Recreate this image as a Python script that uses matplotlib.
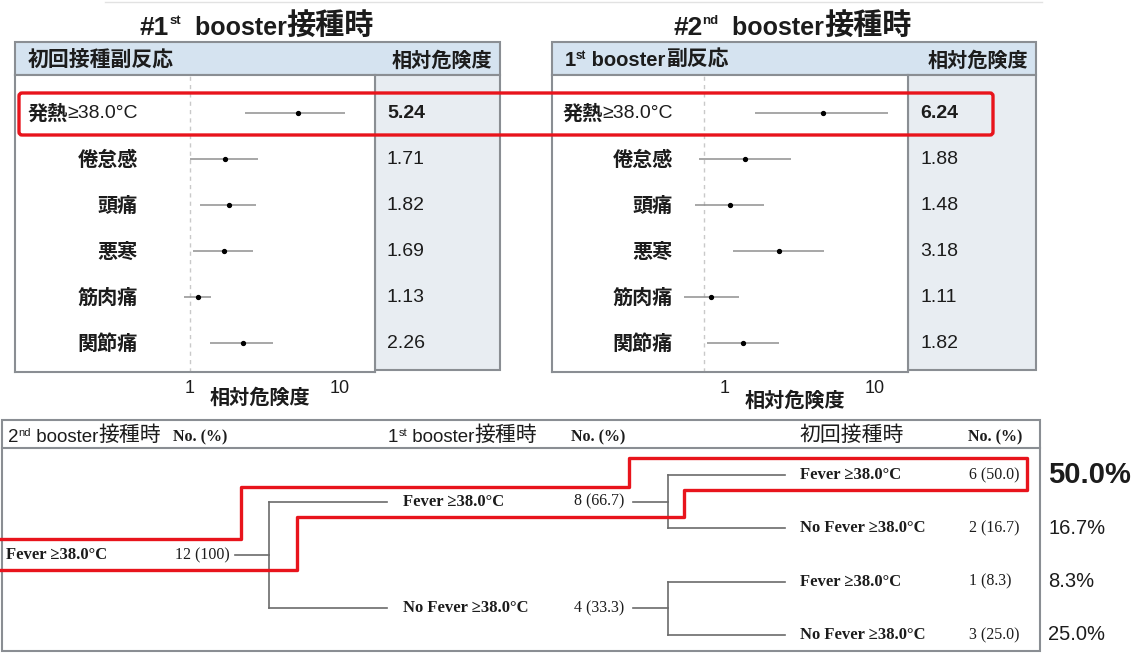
import matplotlib
matplotlib.use("Agg")
from matplotlib import pyplot as plt
from matplotlib.patches import Rectangle, FancyBboxPatch
from matplotlib.ticker import NullLocator
from matplotlib.transforms import ScaledTranslation, blended_transform_factory

# relative risk (point estimate, 95% CI) of each reaction
symptoms = ['発熱≥38.0°C', '倦怠感', '頭痛', '悪寒', '筋肉痛', '関節痛']
rr_1st = [5.24, 1.71, 1.82, 1.69, 1.13, 2.26]
lo_1st = [2.33, 1.00, 1.17, 1.05, 0.91, 1.36]
hi_1st = [10.8, 2.84, 2.75, 2.63, 1.38, 3.57]
rr_2nd = [6.24, 1.88, 1.48, 3.18, 1.11, 1.82]
lo_2nd = [2.19, 0.92, 0.87, 1.56, 0.74, 1.05]
hi_2nd = [16.9, 3.80, 2.51, 6.30, 1.71, 3.16]

# fever follow-up: 2nd booster -> 1st booster -> primary series
root_label = 'Fever ≥38.0°C'
root_n = 12
mid_labels = ['Fever ≥38.0°C', 'No Fever ≥38.0°C']
mid_n = [8, 4]
leaf_labels = ['Fever ≥38.0°C', 'No Fever ≥38.0°C', 'Fever ≥38.0°C', 'No Fever ≥38.0°C']
leaf_n = [6, 2, 1, 3]

W, H = 1137, 654
DEC = 150.0          # pixels per decade on the RR axis
ROW0, ROWSTEP = 113, 46

SANS = ['Liberation Sans', 'Noto Sans CJK JP']
CJK = ['Noto Sans CJK JP']
SERIF = ['Liberation Serif', 'DejaVu Serif']
INK = '#1c1c1c'
EDGE = '#8a8e93'
HEAD = '#d5e3f0'
VALCOL = '#e8edf2'
RED = '#e8141c'

fig = plt.figure(figsize=(W / 100, H / 100), dpi=100)
bg = fig.add_axes([0, 0, 1, 1])
bg.set_xlim(0, W)
bg.set_ylim(H, 0)
bg.axis('off')
bg.plot([105, 1042], [2, 2], color='#e2e2e2', lw=1)


def px_axes(x0, y0, x1, y1, **kw):
    return fig.add_axes([x0 / W, 1 - y1 / H, (x1 - x0) / W, (y1 - y0) / H], **kw)


def chain(ax, x, y, parts, transform=None):
    # lay text pieces of different styles one after another
    s, kw = parts[0]
    kw = dict(kw)
    kw.pop('dy', None)
    first = ax.text(x, y, s, va='bottom', ha='left', color=INK,
                    transform=transform or ax.transData, **kw)
    prev = first
    for s, kw in parts[1:]:
        kw = dict(kw)
        dy = kw.pop('dy', 0)
        prev = ax.annotate(s, xy=(1, 0), xycoords=(prev, first), xytext=(0, dy),
                           textcoords='offset points', va='bottom', ha='left',
                           color=INK, **kw)
    return first


def forest(x0, xdiv, x1, xone, title_parts, title_x, head_parts, rr, lo, hi,
           label_right, xlab_x, xlab_y, tick_shift):
    chain(bg, title_x, 40, title_parts)
    bg.add_patch(Rectangle((x0, 42), x1 - x0, 33, fc=HEAD, ec=EDGE, lw=1.5))
    chain(bg, x0 + 13, 70, head_parts)
    bg.text(x1 - 8, 60, '相対危険度', ha='right', va='center', size=14.5,
            weight='bold', family=CJK, color=INK)
    bg.add_patch(Rectangle((xdiv, 75), x1 - xdiv, 295, fc=VALCOL, ec=EDGE, lw=1.5))

    ax = px_axes(x0, 75, xdiv, 372)
    ax.set_xscale('log')
    ax.set_xlim(10 ** ((x0 - xone) / DEC), 10 ** ((xdiv - xone) / DEC))
    ax.set_ylim((372 - ROW0) / ROWSTEP, (75 - ROW0) / ROWSTEP)
    rows = list(range(len(rr)))
    ax.axvline(1, color='#c9c9c9', lw=1, ls=(0, (3, 3)), zorder=1)
    ax.hlines(rows, lo, hi, color='#8f8f8f', lw=1.1, zorder=2)
    ax.plot(rr, rows, 'o', color='black', ms=2.8, zorder=3)
    for sp in ax.spines.values():
        sp.set_color(EDGE)
        sp.set_linewidth(1.5)
    ax.set_yticks([])
    ax.set_xticks([1, 10])
    ax.set_xticklabels(['1', '10'])
    ax.xaxis.set_minor_locator(NullLocator())
    ax.tick_params(axis='x', length=0, pad=6, labelsize=13, labelcolor=INK)
    for lab in ax.get_xticklabels():
        lab.set_family(SANS)
        lab.set_transform(lab.get_transform() +
                          ScaledTranslation(tick_shift / 100, 0, fig.dpi_scale_trans))
    ax.text(xlab_x, xlab_y, '相対危険度', transform=ax.transAxes, ha='center',
            va='center', size=14.5, weight='bold', family=CJK, color=INK)

    # row labels sit in the plot box, values in the shaded column beside it
    tr = blended_transform_factory(bg.transData, ax.transData)
    for i, name in enumerate(symptoms):
        if name.startswith('発熱'):
            t = ax.text(label_right, i, name[2:], ha='right', va='center', size=14,
                        family=SANS, color=INK, transform=tr)
            ax.annotate(name[:2], xy=(0, 0.5), xycoords=t, ha='right', va='center',
                        size=14.5, weight='bold', family=CJK, color=INK)
        else:
            ax.text(label_right, i, name, ha='right', va='center', size=14.5,
                    weight='bold', family=CJK, color=INK, transform=tr)
        bg.text(xdiv + 12, i, f'{rr[i]:.2f}', ha='left', va='center', size=14,
                family=SANS, color=INK, weight='bold' if i == 0 else 'normal',
                transform=tr)
    return ax


big = dict(size=18, weight='bold', family=SANS)
num = dict(size=19, weight='bold', family=SANS)
sup = dict(size=9.5, weight='bold', family=SANS, dy=9)
bigj = dict(size=21, weight='bold', family=CJK)
hd = dict(size=14.5, weight='bold', family=SANS)
hdsup = dict(size=8.5, weight='bold', family=SANS, dy=6)
hdj = dict(size=15, weight='bold', family=CJK)

forest(15, 375, 500, 190,
       [('#1', num), ('st', sup), ('  booster', big), ('接種時', bigj)], 140,
       [('初回接種副反応', hdj)],
       rr_1st, lo_1st, hi_1st, 138, 0.68, -0.084, 0)
forest(552, 908, 1036, 704,
       [('#2', num), ('nd', sup), ('  booster', big), ('接種時', bigj)], 673,
       [('1', hd), ('st', hdsup), (' booster', hd), ('副反応', hdj)],
       rr_2nd, lo_2nd, hi_2nd, 673, 0.683, -0.094, 21)

# ---- fever tree ----
bg.add_patch(Rectangle((2, 420), 1038, 231, fc='white', ec=EDGE, lw=1.5))
bg.plot([2, 1040], [448, 448], color=EDGE, lw=1.5)
hn = dict(size=13.5, family=SANS)
hs = dict(size=8, family=SANS, dy=6)
hj = dict(size=15, family=CJK)
nop = dict(size=11.5, weight='bold', family=SERIF)
chain(bg, 8, 446, [('2', hn), ('nd', hs), (' booster', hn), ('接種時', hj)])
chain(bg, 388, 446, [('1', hn), ('st', hs), (' booster', hn), ('接種時', hj)])
chain(bg, 800, 446, [('初回接種時', hj)])
for x in (173, 571, 968):
    bg.text(x, 437, 'No. (%)', ha='left', va='center', color=INK, **nop)

leaf_y = [475 + 53.3 * i for i in range(len(leaf_n))]
mid_y = [(leaf_y[2 * k] + leaf_y[2 * k + 1]) / 2 for k in range(len(mid_n))]
root_y = sum(mid_y) / len(mid_y)

line = dict(color='#6b6b6b', lw=1.2)
lab = dict(size=12, weight='bold', family=SERIF, color=INK, va='center')
cnt = dict(size=11.5, family=SERIF, color=INK, va='center')

bg.text(6, root_y, root_label, ha='left', **lab)
bg.text(230, root_y, f'{root_n} (100)', ha='right', **cnt)
bg.plot([235, 269], [root_y, root_y], **line)
bg.plot([269, 269], [mid_y[0], mid_y[-1]], **line)
for k, (name, n) in enumerate(zip(mid_labels, mid_n)):
    y = mid_y[k]
    bg.plot([269, 387], [y, y], **line)
    bg.text(403, y, name, ha='left', **lab)
    bg.text(624, y, f'{n} ({100 * n / root_n:.1f})', ha='right', **cnt)
    bg.plot([633, 668], [y, y], **line)
    bg.plot([668, 668], [leaf_y[2 * k], leaf_y[2 * k + 1]], **line)
for j, (name, n) in enumerate(zip(leaf_labels, leaf_n)):
    y = leaf_y[j]
    bg.plot([668, 785], [y, y], **line)
    bg.text(800, y, name, ha='left', **lab)
    bg.text(969, y, f'{n} ({100 * n / root_n:.1f})', ha='left', **cnt)
    bg.text(1048, y, f'{100 * n / root_n:.1f}%', ha='left', va='center',
            family=SANS, color=INK, size=21 if j == 0 else 14.5,
            weight='bold' if j == 0 else 'normal')

# ---- red highlights on top ----
over = fig.add_axes([0, 0, 1, 1], zorder=10)
over.set_xlim(0, W)
over.set_ylim(H, 0)
over.axis('off')
over.patch.set_alpha(0)
over.add_patch(FancyBboxPatch((19, 93), 974, 42, boxstyle='round,pad=0,rounding_size=3',
                              fill=False, ec=RED, lw=2.4))
path_x = [0, 241, 241, 629, 629, 1027, 1027, 684, 684, 297, 297, 0]
path_y = [539, 539, 487, 487, 458, 458, 490, 490, 517, 517, 570, 570]
over.plot(path_x, path_y, color=RED, lw=2.4, solid_joinstyle='round')

fig.savefig('out.png', dpi=100)
